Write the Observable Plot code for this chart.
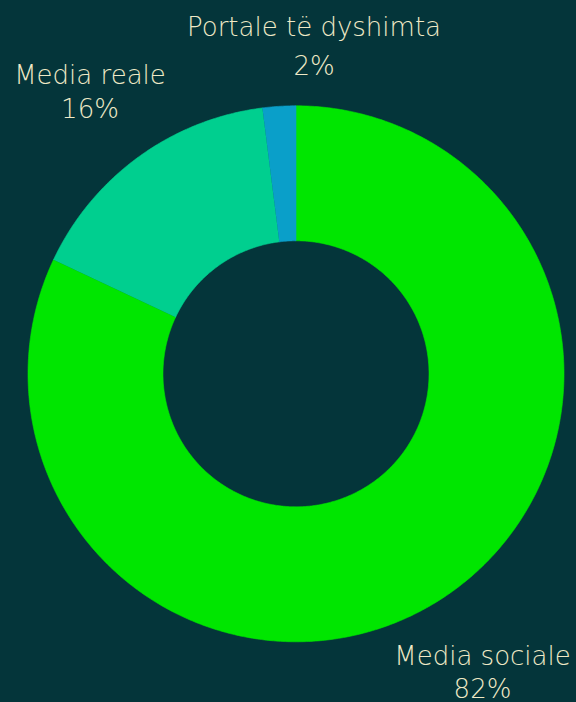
<!DOCTYPE html>
<html>
<head>
<meta charset="utf-8">
<script src="https://cdn.jsdelivr.net/npm/d3@7"></script>
<script src="https://cdn.jsdelivr.net/npm/@observablehq/plot@0.6"></script>
<style>
  html, body { margin: 0; padding: 0; background: #04353a; }
  #chart { width: 576px; height: 702px; }
</style>
</head>
<body>
<div id="chart"></div>
<script>
// Data
const categories = ["Media sociale", "Media reale", "Portale të dyshimta"];
const values = [82, 16, 2];
const percentLabels = ["82%", "16%", "2%"];
const colors = ["#00e600", "#00cf8f", "#0a9fc9"];

// Layout
const W = 576, H = 702;
const cx = 295.5, cy = 373.3, rOuter = 268, rInner = 133;
// label anchor positions (pixel) for name baseline and percent baseline
const labelX = [482, 89.5, 313.5];
const nameBaseline = [664, 83, 35];
const pctBaseline = [697, 117, 74];

const pie = d3.pie().sort(null).value(d => d.value).startAngle(0).endAngle(2 * Math.PI);
const slices = pie(categories.map((c, i) => ({name: c, value: values[i]})));

const pts = [];
slices.forEach(s => {
  const a0 = s.startAngle, a1 = s.endAngle;
  const n = Math.max(2, Math.ceil((a1 - a0) / (Math.PI / 360)));
  for (let k = 0; k <= n; k++) {
    const a = a0 + (a1 - a0) * k / n;
    pts.push({name: s.data.name, x: cx + rOuter * Math.sin(a), y: cy - rOuter * Math.cos(a)});
  }
  for (let k = n; k >= 0; k--) {
    const a = a0 + (a1 - a0) * k / n;
    pts.push({name: s.data.name, x: cx + rInner * Math.sin(a), y: cy - rInner * Math.cos(a)});
  }
});

const labels = categories.map((c, i) => ({name: c, pct: percentLabels[i], x: labelX[i], yName: nameBaseline[i], yPct: pctBaseline[i]}));

const chart = Plot.plot({
  width: W,
  height: H,
  margin: 0,
  style: {background: "#04353a", fontFamily: "'DejaVu Sans', sans-serif"},
  x: {domain: [0, W], range: [0, W], axis: null},
  y: {domain: [0, H], range: [0, H], axis: null},
  color: {domain: categories, range: colors},
  marks: [
    Plot.line(pts, {x: "x", y: "y", z: "name", fill: "name", stroke: "name", strokeWidth: 0.6, curve: "linear"}),
    Plot.text(labels, {x: "x", y: "yName", text: "name", lineAnchor: "bottom", fill: "#efe9c6", fontSize: 26, fontWeight: 300}),
    Plot.text(labels, {x: "x", y: "yPct", text: "pct", lineAnchor: "bottom", fill: "#efe9c6", fontSize: 26, fontWeight: 300})
  ]
});
document.getElementById("chart").appendChild(chart);
</script>
</body>
</html>
